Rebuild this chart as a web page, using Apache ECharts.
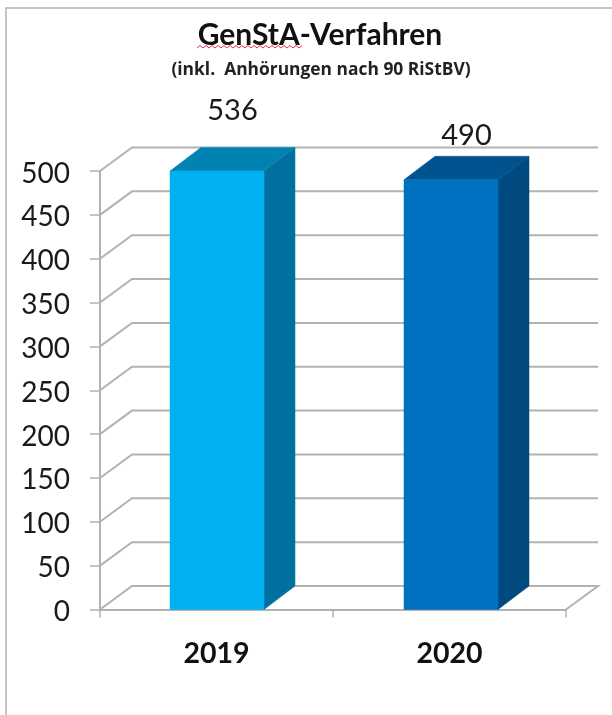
<!DOCTYPE html>
<html>
<head>
<meta charset="utf-8">
<style>html,body{margin:0;padding:0;background:#fff}#c{width:612px;height:715px}</style>
<script src="https://cdn.jsdelivr.net/npm/echarts@6/dist/echarts.min.js"></script>
</head>
<body>
<div id="c"></div>
<script>
const categories = ['2019', '2020'];
const values = [536, 490];
const yTicks = [0, 50, 100, 150, 200, 250, 300, 350, 400, 450, 500];
const titleText = 'GenStA-Verfahren';
const subtitleText = '(inkl.  Anhörungen nach 90 RiStBV)';

const yMax = 500;
const depthX = 32, depthY = -23.5;
const barDepthX = 31;
const barWidth = 94;
const labelLift = [5, 21];
const barShift = [0.5, 1.5];
const FONT = 'Lato, "Open Sans", sans-serif';
const GRID = '#b2b2b2';
const faces = [
  { front: '#00b0f0', top: '#0083b3', side: '#00709f' },
  { front: '#0070c0', top: '#00538f', side: '#004a80' }
];

const chart = echarts.init(document.getElementById('c'), null, { renderer: 'canvas' });

function wallItem(params, api) {
  const y = api.coord([0, api.value(1)])[1];
  const cs = params.coordSys;
  const l = cs.x, r = cs.x + cs.width;
  const st = { stroke: GRID, lineWidth: 2, fill: null };
  const pts = [[l, y], [l + depthX, y + depthY], [r + depthX, y + depthY]];
  if (api.value(1) === 0) pts.push([r, y]);
  return { type: 'polyline', shape: { points: pts }, style: st, silent: true };
}

function barItem(params, api) {
  const i = params.dataIndex;
  const v = api.value(1);
  const base = api.coord([api.value(0), 0]);
  const top = api.coord([api.value(0), Math.min(v, yMax)]);
  const rawTop = api.coord([api.value(0), v]);
  const cx = base[0] + barShift[i];
  const l = cx - barWidth / 2, r = cx + barWidth / 2;
  const f = faces[i];
  const poly = (pts, fill) => ({ type: 'polygon', shape: { points: pts }, style: { fill: fill, stroke: fill, lineWidth: 0.5 } });
  return {
    type: 'group',
    children: [
      poly([[r, base[1]], [r + barDepthX, base[1] + depthY], [r + barDepthX, top[1] + depthY], [r, top[1]]], f.side),
      poly([[l, top[1]], [r, top[1]], [r + barDepthX, top[1] + depthY], [l + barDepthX, top[1] + depthY]], f.top),
      poly([[l, base[1]], [r, base[1]], [r, top[1]], [l, top[1]]], f.front),
      {
        type: 'text',
        style: {
          x: cx + barDepthX / 2,
          y: rawTop[1] + depthY - labelLift[i],
          text: String(v),
          align: 'center',
          verticalAlign: 'middle',
          font: '29px ' + FONT,
          fill: '#1a1a1a'
        }
      }
    ]
  };
}

const squiggle = [];
for (let k = 0; k <= 35; k++) squiggle.push([197 + k * 3, k % 2 ? 45.5 : 48]);

chart.setOption({
  animation: false,
  backgroundColor: '#fff',
  title: [
    { text: titleText, left: 315, top: 15, textAlign: 'center',
      textStyle: { fontFamily: FONT, fontSize: 30, fontWeight: 'bold', color: '#111' } },
    { text: subtitleText, left: 316, top: 57, textAlign: 'center',
      textStyle: { fontFamily: '"Open Sans", Lato, sans-serif', fontSize: 17.4, fontWeight: 'bold', color: '#222' } }
  ],
  grid: { left: 100, top: 171, width: 466, height: 438.5 },
  xAxis: {
    type: 'category',
    data: categories,
    axisLine: { lineStyle: { color: GRID, width: 2 } },
    axisTick: { show: true, length: 8, lineStyle: { color: GRID, width: 1.5 } },
    axisLabel: { margin: 30, fontFamily: FONT, fontSize: 28.5, fontWeight: 'bold', color: '#111' },
    splitLine: { show: false }
  },
  yAxis: {
    type: 'value',
    min: 0, max: yMax, interval: 50,
    axisLine: { show: true, lineStyle: { color: GRID, width: 2 } },
    axisTick: { show: true, length: 10, lineStyle: { color: GRID, width: 1.5 } },
    axisLabel: { margin: 30, color: '#1a1a1a', formatter: '{a|{value}}',
      rich: { a: { fontFamily: FONT, fontSize: 28, color: '#1a1a1a', padding: [5, 0, 0, 0] } } },
    splitLine: { show: false }
  },
  series: [
    { type: 'custom', name: 'wall', coordinateSystem: 'cartesian2d', z: 1, silent: true, clip: false,
      data: yTicks.map(t => [0, t]), renderItem: wallItem, encode: { x: 0, y: 1 } },
    { type: 'custom', name: 'GenStA-Verfahren', coordinateSystem: 'cartesian2d', z: 3, clip: false,
      data: values.map((v, i) => [i, v]), renderItem: barItem, encode: { x: 0, y: 1 } }
  ],
  graphic: [
    { type: 'polyline', silent: true, z: 10, shape: { points: [[6, 715], [6, 8], [612, 8]] }, style: { stroke: GRID, lineWidth: 1.5, fill: null } },
    { type: 'polyline', silent: true, z: 10, shape: { points: squiggle }, style: { stroke: '#e8324a', lineWidth: 1, fill: null } }
  ]
});
</script>
</body>
</html>
